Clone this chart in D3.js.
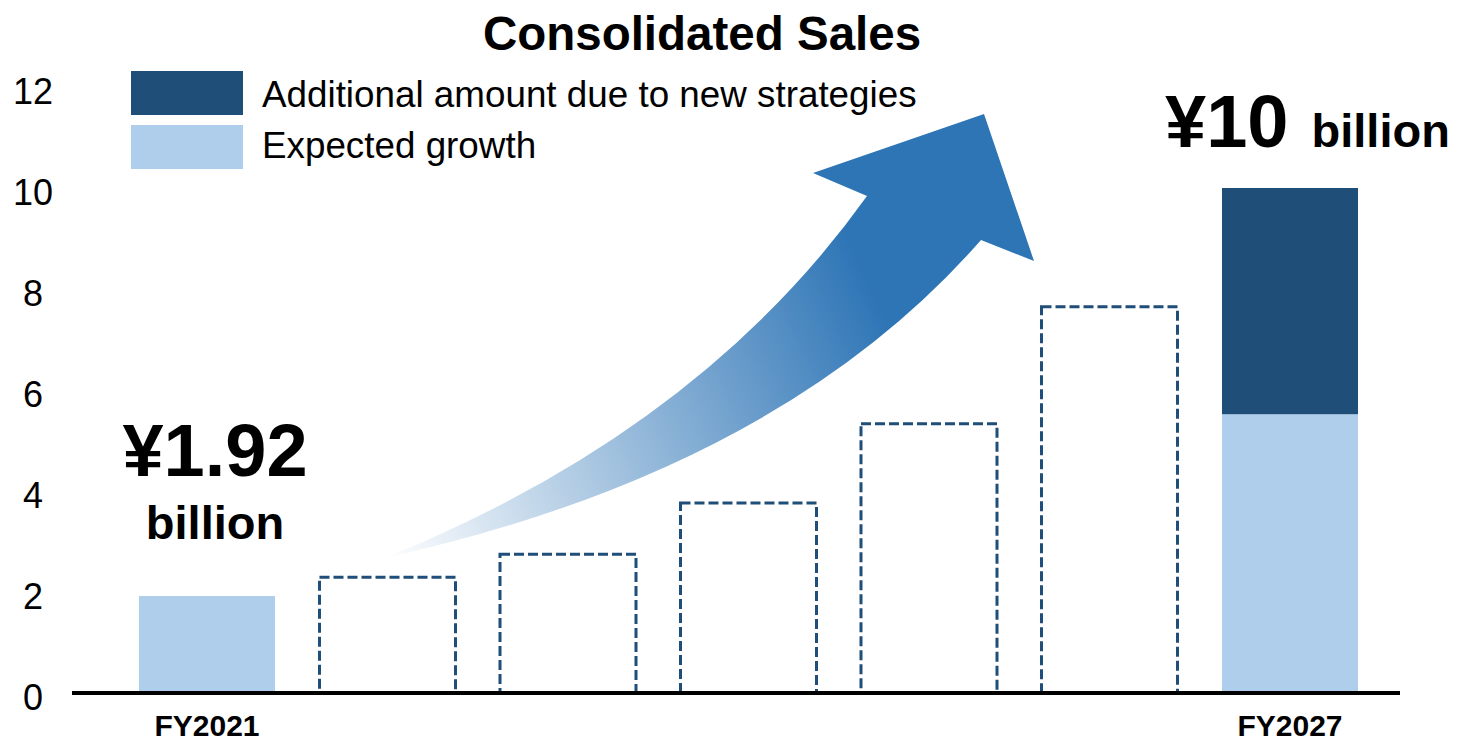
<!DOCTYPE html>
<html><head><meta charset="utf-8">
<script src="https://cdn.jsdelivr.net/npm/d3@7"></script>
<style>html,body{margin:0;padding:0;background:#fff;}svg{display:block;font-family:"Liberation Sans",Arial,sans-serif;}</style>
</head><body>
<svg id="chart" width="1458" height="743"></svg>
<script>
const categories = ["FY2021","FY2022","FY2023","FY2024","FY2025","FY2026","FY2027"];
const categoryLabels = ["FY2021","","","","","","FY2027"];
const expectedGrowth = [1.92, null, null, null, null, null, 5.52];
const projected = [null, 2.29, 2.75, 3.76, 5.33, 7.65, null];
const additional = [0, 0, 0, 0, 0, 0, 4.48];
const yTicks = [0, 2, 4, 6, 8, 10, 12];
const seriesNames = ["Additional amount due to new strategies", "Expected growth"];
const title = "Consolidated Sales";

const DARK = "#1f4e79", LIGHT = "#afceeb";
const svg = d3.select("#chart");

const x = d3.scaleBand().domain(categories).range([139, 1358]).paddingInner(0.2465).paddingOuter(0);
const y = d3.scaleLinear().domain([0, 12]).range([693, 87]);

// arrow gradient
const defs = svg.append("defs");
const grad = defs.append("linearGradient").attr("id","arrowGrad")
  .attr("gradientUnits","userSpaceOnUse").attr("x1",385).attr("y1",560).attr("x2",960).attr("y2",300);
grad.append("stop").attr("offset",0).attr("stop-color","#ffffff");
grad.append("stop").attr("offset",0.88).attr("stop-color","#2e75b6");
grad.append("stop").attr("offset",1).attr("stop-color","#2e75b6");

svg.append("path")
  .attr("d","M385,558 Q700,430 867,196 L813,173 L984,114 L1034,261 L981,240 Q780,470 385,558 Z")
  .attr("fill","url(#arrowGrad)");

// y tick labels
svg.append("g").selectAll("text").data(yTicks).join("text")
  .attr("x", 33).attr("y", d => y(d) + 4)
  .attr("text-anchor","middle").attr("dominant-baseline","central")
  .attr("font-size", 36).attr("fill","#000").text(d => d);

// solid light bars
svg.append("g").selectAll("rect").data(categories.map((c,i)=>({c, v: expectedGrowth[i]})).filter(d=>d.v!=null)).join("rect")
  .attr("x", d => x(d.c)).attr("width", x.bandwidth())
  .attr("y", d => y(d.v)).attr("height", d => y(0) - y(d.v))
  .attr("fill", LIGHT);

// additional dark stacked
svg.append("g").selectAll("rect").data(categories.map((c,i)=>({c, base: expectedGrowth[i]||0, v: additional[i]})).filter(d=>d.v>0)).join("rect")
  .attr("x", d => x(d.c)).attr("width", x.bandwidth())
  .attr("y", d => y(d.base + d.v)).attr("height", d => y(d.base) - y(d.base + d.v))
  .attr("fill", DARK);

// dashed projected bars
svg.append("g").selectAll("rect").data(categories.map((c,i)=>({c, v: projected[i]})).filter(d=>d.v!=null)).join("rect")
  .attr("x", d => x(d.c)).attr("width", x.bandwidth())
  .attr("y", d => y(d.v)).attr("height", d => y(0) - y(d.v))
  .attr("fill", "none").attr("stroke", DARK).attr("stroke-width", 3).attr("stroke-dasharray","10,4");

// x axis baseline
svg.append("line").attr("x1",72).attr("x2",1400).attr("y1",y(0)).attr("y2",y(0))
  .attr("stroke","#000").attr("stroke-width",4);

// x labels
svg.append("g").selectAll("text").data(categories).join("text")
  .attr("x", d => x(d) + x.bandwidth()/2).attr("y", 736)
  .attr("text-anchor","middle").attr("font-size",30).attr("font-weight","bold")
  .text((d,i) => categoryLabels[i]);

// title
svg.append("text").attr("x",702).attr("y",50).attr("text-anchor","middle")
  .attr("font-size",47.5).attr("font-weight","bold").text(title);

// legend
const legColors = [DARK, LIGHT];
const leg = svg.append("g");
seriesNames.forEach((n,i) => {
  leg.append("rect").attr("x",131).attr("y",71 + i*54).attr("width",112).attr("height",44).attr("fill",legColors[i]);
  leg.append("text").attr("x",262).attr("y",107 + i*51).attr("font-size",36.8).text(n);
});

// annotations
const a1 = svg.append("text").attr("x",215).attr("text-anchor","middle").attr("font-weight","bold");
a1.append("tspan").attr("x",215).attr("y",476).attr("font-size",74).text("¥1.92");
a1.append("tspan").attr("x",215).attr("y",539).attr("font-size",47).text("billion");

const a2 = svg.append("text").attr("x",1165).attr("y",147).attr("font-weight","bold");
a2.append("tspan").attr("font-size",74).text("¥10");
a2.append("tspan").attr("font-size",47).attr("dx",10).text(" billion");
</script>
</body></html>
